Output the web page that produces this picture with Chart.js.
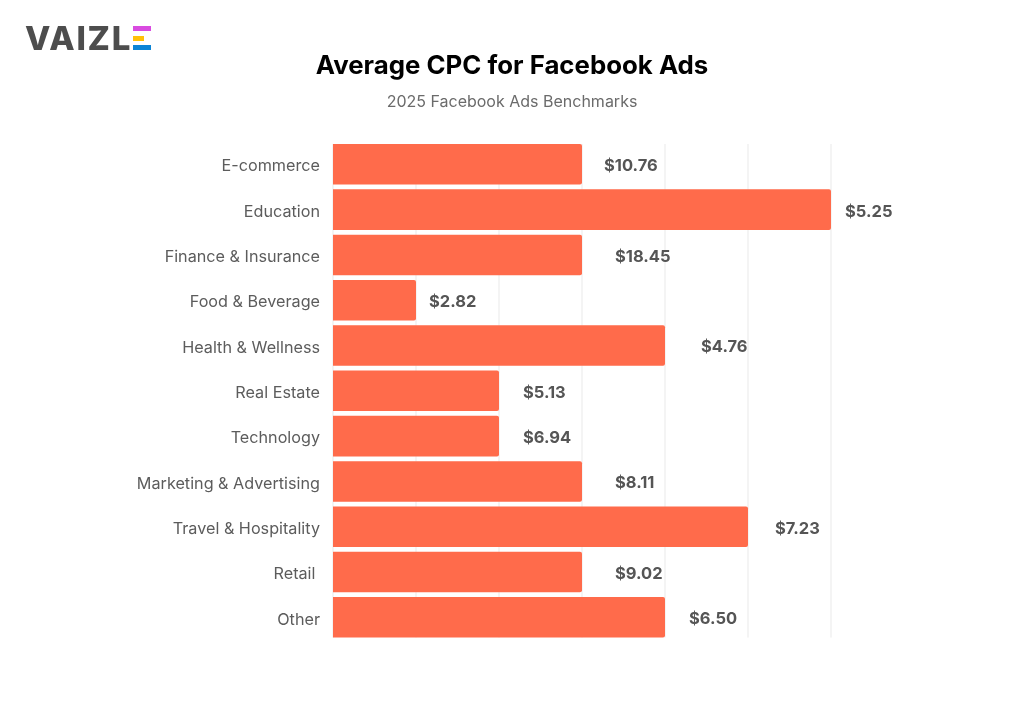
<!DOCTYPE html>
<html>
<head>
<meta charset="utf-8">
<script src="https://cdn.jsdelivr.net/npm/chart.js@4"></script>
<style>
html,body{margin:0;padding:0;background:#fff;width:1024px;height:721px;overflow:hidden}
#wrap{position:relative;width:1024px;height:721px}
canvas{position:absolute;left:0;top:0}
#logo{position:absolute;left:25px;top:18px;font:800 33px/40px Inter,sans-serif;color:#4d4d4d;letter-spacing:1.7px}
.e{position:absolute;left:132.5px}
</style>
</head>
<body>
<div id="wrap">
<canvas id="c" width="1024" height="721"></canvas>
<div id="logo">VAIZL</div>
<div class="e" style="top:26px;width:18.5px;height:5px;background:#d94be0"></div>
<div class="e" style="top:35.5px;width:11px;height:5px;background:#ffc107"></div>
<div class="e" style="top:45px;width:18.5px;height:5px;background:#0b84d6"></div>
</div>
<script>
const categories = ["E-commerce","Education","Finance & Insurance","Food & Beverage","Health & Wellness","Real Estate","Technology","Marketing & Advertising","Travel & Hospitality","Retail ","Other"];
const barValues = [3,6,3,1,4,2,2,3,5,3,4];
const valueLabels = ["$10.76","$5.25","$18.45","$2.82","$4.76","$5.13","$6.94","$8.11","$7.23","$9.02","$6.50"];
const labelGaps = [22,14,33,13,36,24,24,33,27,33,24];

const gridPlugin = {
  id:'shortGrid',
  beforeDatasetsDraw(chart){
    const {ctx,scales:{x}} = chart;
    const bars = chart.getDatasetMeta(0).data;
    const first = bars[0], last = bars[bars.length-1];
    const top = first.y-first.height/2, bottom = last.y+last.height/2;
    ctx.save();
    ctx.strokeStyle = '#f0f0f0';
    ctx.lineWidth = 1.5;
    x.ticks.forEach(t=>{
      const px = x.getPixelForValue(t.value);
      ctx.beginPath();ctx.moveTo(px,top);ctx.lineTo(px,bottom);ctx.stroke();
    });
    ctx.restore();
  }
};

const valueLabelPlugin = {
  id:'valueLabels',
  afterDatasetsDraw(chart){
    const {ctx,scales:{x,y}} = chart;
    ctx.save();
    ctx.font = '700 16.5px Inter, sans-serif';
    ctx.fillStyle = '#555555';
    ctx.textAlign = 'left';
    ctx.textBaseline = 'middle';
    barValues.forEach((v,i)=>{
      ctx.fillText(valueLabels[i], x.getPixelForValue(v)+labelGaps[i], y.getPixelForValue(i)+2);
    });
    ctx.restore();
  }
};

new Chart(document.getElementById('c'),{
  type:'bar',
  data:{labels:categories,datasets:[{data:barValues,backgroundColor:'#ff6b4b',borderRadius:{topLeft:0,bottomLeft:0,topRight:2,bottomRight:2},borderSkipped:false,barPercentage:0.895,categoryPercentage:1}]},
  plugins:[gridPlugin,valueLabelPlugin],
  options:{
    indexAxis:'y',responsive:false,animation:false,
    layout:{padding:{left:0,right:0,top:0,bottom:81}},
    plugins:{
      legend:{display:false},tooltip:{enabled:false},
      title:{display:true,text:'Average CPC for Facebook Ads',color:'#000',font:{family:'Inter',size:25.8,weight:'700'},padding:{top:51,bottom:11}},
      subtitle:{display:true,text:'2025 Facebook Ads Benchmarks',color:'#6b6b6b',font:{family:'Inter',size:16,weight:'400'},padding:{top:0,bottom:29.5}}
    },
    scales:{
      x:{min:0,max:6,ticks:{display:false,stepSize:1},border:{display:false},grid:{display:false,drawTicks:false}},
      y:{
        ticks:{color:'#5c5c5c',font:{family:'Inter',size:16.2},padding:13,labelOffset:2.3},
        border:{display:false},grid:{display:false,drawTicks:false},
        afterFit(s){s.width=333;}
      },
      rightGutter:{
        axis:'y',position:'right',display:true,
        ticks:{display:false},border:{display:false},grid:{display:false,drawTicks:false},
        afterFit(s){s.width=193;}
      }
    }
  }
});
</script>
</body>
</html>
